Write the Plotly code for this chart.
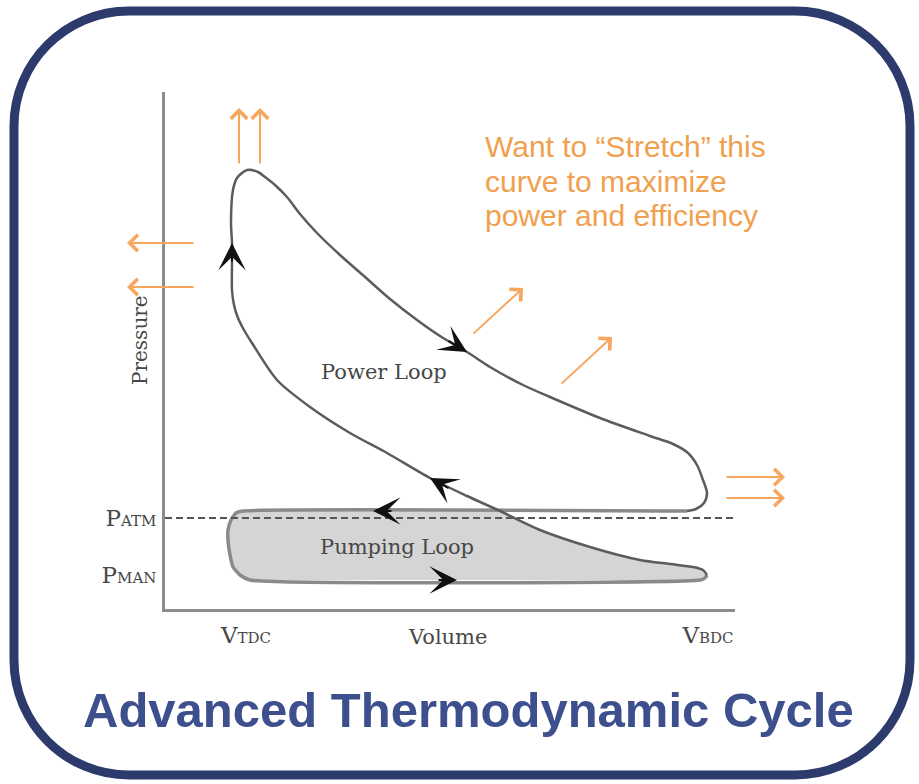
import plotly.graph_objects as go
import numpy as np

# ---------------- data (diagram units: volume / pressure, origin at axis corner) -------------
V_TDC, V_BDC = 81, 543          # tick positions on volume axis
P_ATM, P_MAN = 91, 34           # tick positions on pressure axis
P_EXH = 98                      # exhaust stroke pressure
P_INT = 29                      # intake stroke pressure
V_MAX, P_MAX = 570, 517         # axis extents

x_tick_text = ["V<span style='font-size:15px'>TDC</span>", "V<span style='font-size:15px'>BDC</span>"]
y_tick_text = ["P<span style='font-size:15px'>ATM</span>", "P<span style='font-size:15px'>MAN</span>"]

# compression stroke (BDC -> peak)
comp_v = [542, 538, 528, 505, 475, 425, 375, 335, 302, 265, 222, 185, 145, 112, 87, 79, 73, 69, 67, 67, 67, 66, 68, 72, 82]
comp_p = [34, 39, 42, 45, 49, 62, 79, 98, 113, 131, 156, 176, 202, 229, 266, 279, 291, 304, 319, 346, 366, 386, 419, 431, 439]
# expansion stroke + blowdown (peak -> exhaust)
exp_v = [82, 93, 100, 110, 122, 135, 152, 175, 200, 225, 252, 275, 302, 325, 358, 385, 435, 485, 508, 523, 532, 538, 542, 539, 531, 522]
exp_p = [439, 437, 432, 424, 412, 395, 376, 354, 332, 310, 289, 273, 257, 242, 224, 212, 191, 173, 165, 156, 144, 129, 116, 106, 100, 98]
# exhaust stroke
exh_v = [522, 78]
exh_p = [P_EXH, P_EXH]
# valve overlap (left side of pumping loop)
ovl_v = [78, 71, 66, 63, 63, 65, 68, 75, 85]
ovl_p = [98, 96, 89, 79, 69, 54, 42, 34, 29]
# intake stroke
int_v = [85, 535, 540, 542]
int_p = [P_INT, P_INT, 31, 34]

# direction arrows on the cycle: (tip_v, tip_p, tail_v, tail_p)
cycle_arrows = [
    (67, 366, 67, 346),
    (302, 257, 282, 269),
    (265, 131, 285, 120),
    (208, 98, 228, 98),
    (292, 29, 272, 29),
]
# "stretch" arrows: (tip_v, tip_p, tail_v, tail_p)
stretch_arrows = [
    (74, 501, 74, 444),
    (95, 501, 95, 444),
    (-38, 366, 30, 366),
    (-38, 322, 30, 322),
    (358, 321, 307, 274),
    (447, 272, 395, 224),
    (620, 132, 560, 132),
    (620, 111, 560, 111),
]

note_lines = ["Want to \u201cStretch\u201d this", "curve to maximize", "power and efficiency"]
note_p = [462, 427, 393]
title_text = "Advanced Thermodynamic Cycle"

# ---------------- figure ----------------
W, H = 919, 784
SERIF = "DejaVu Serif, Liberation Serif, serif"
LABEL = "#474747"

def px(x, y):
    """pixel position -> paper coords"""
    return x / W, 1 - y / H

fig = go.Figure()

# pumping loop fill
comp_v_a, comp_p_a = np.array(comp_v), np.array(comp_p)
idx = int(np.argmax(comp_p_a >= P_EXH))
fill_v = [ovl_v[0]] + list(comp_v_a[idx::-1]) + int_v[::-1] + ovl_v[::-1]
fill_p = [ovl_p[0]] + list(comp_p_a[idx::-1]) + int_p[::-1] + ovl_p[::-1]
fig.add_trace(go.Scatter(x=fill_v, y=fill_p, fill="toself", fillcolor="#d5d5d5",
                         mode="lines", line=dict(width=0, color="rgba(0,0,0,0)"),
                         hoverinfo="skip", cliponaxis=False))

# low-pressure strokes (thick gray)
fig.add_trace(go.Scatter(x=exh_v + ovl_v[1:] + int_v[1:], y=exh_p + ovl_p[1:] + int_p[1:],
                         mode="lines", line=dict(color="#8a8a8a", width=3.5, shape="spline", smoothing=0.5),
                         hoverinfo="skip", cliponaxis=False))
# compression + expansion (dark)
fig.add_trace(go.Scatter(x=comp_v + exp_v[1:], y=comp_p + exp_p[1:],
                         mode="lines", line=dict(color="#5c5c5c", width=2.5, shape="spline", smoothing=0.8),
                         hoverinfo="skip", cliponaxis=False))

annotations = []
for tv, tp, av, ap in cycle_arrows:
    annotations.append(dict(x=tv, y=tp, ax=av, ay=ap, xref="x", yref="y", axref="x", ayref="y",
                            text="", showarrow=True, arrowhead=3, arrowsize=2.3, arrowwidth=2,
                            arrowcolor="#111111", standoff=0))
for tv, tp, av, ap in stretch_arrows:
    annotations.append(dict(x=tv, y=tp, ax=av, ay=ap, xref="x", yref="y", axref="x", ayref="y",
                            text="", showarrow=True, arrowhead=4, arrowsize=1.6, arrowwidth=2,
                            arrowcolor="#f7a65e", standoff=0))

annotations += [
    dict(x=219, y=237, xref="x", yref="y", text="Power Loop", showarrow=False,
         font=dict(family=SERIF, size=21, color=LABEL)),
    dict(x=232, y=62, xref="x", yref="y", text="Pumping Loop", showarrow=False,
         font=dict(family=SERIF, size=21, color=LABEL)),
]
vx, vy = px(447, 637)
annotations.append(dict(x=vx, y=vy, xref="paper", yref="paper", xanchor="center", yanchor="middle",
                        text="Volume", showarrow=False, font=dict(family=SERIF, size=21, color=LABEL)))
prx, pry = px(140, 340)
annotations.append(dict(x=prx, y=pry, xref="paper", yref="paper", xanchor="center", yanchor="middle",
                        text="Pressure", showarrow=False, textangle=-90,
                        font=dict(family=SERIF, size=20, color=LABEL)))
for line, p in zip(note_lines, note_p):
    annotations.append(dict(x=318, y=p, xref="x", yref="y", xanchor="left", text=line, showarrow=False,
                            font=dict(family="Liberation Sans, Arial, sans-serif", size=30, color="#f0a04e")))
tx, ty = px(468, 710)
annotations.append(dict(x=tx, y=ty, xref="paper", yref="paper", xanchor="center", yanchor="middle",
                        text="<b>" + title_text + "</b>", showarrow=False,
                        font=dict(family="Liberation Sans, Arial, sans-serif", size=49, color="#3e4f8e")))

# rounded frame (pixel geometry -> paper coords)
L, T, R, B, r = 14, 11, 910, 775, 115
k = 0.5523 * r
def P(x, y):
    a, b = px(x, y)
    return f"{a:.5f},{b:.5f}"
frame = (f"M{P(L + r, T)} L{P(R - r, T)} C{P(R - r + k, T)} {P(R, T + r - k)} {P(R, T + r)} "
         f"L{P(R, B - r)} C{P(R, B - r + k)} {P(R - r + k, B)} {P(R - r, B)} "
         f"L{P(L + r, B)} C{P(L + r - k, B)} {P(L, B - r + k)} {P(L, B - r)} "
         f"L{P(L, T + r)} C{P(L, T + r - k)} {P(L + r - k, T)} {P(L + r, T)} Z")

shapes = [
    dict(type="path", xref="paper", yref="paper", path=frame, line=dict(color="#2c3a6c", width=9)),
    dict(type="line", xref="x", yref="y", x0=0, x1=V_MAX, y0=P_ATM, y1=P_ATM,
         line=dict(color="#555555", width=2, dash="7px,4px")),
]

fig.update_layout(
    width=W, height=H, autosize=False, margin=dict(l=0, r=0, t=0, b=0),
    paper_bgcolor="white", plot_bgcolor="rgba(0,0,0,0)", showlegend=False,
    annotations=annotations, shapes=shapes,
    xaxis=dict(domain=[165 / W, 735 / W], range=[0, V_MAX], showline=True, linecolor="#8c8c8c", linewidth=3,
               showgrid=False, zeroline=False, tickvals=[V_TDC, V_BDC], ticktext=x_tick_text,
               ticks="outside", ticklen=3, tickcolor="rgba(0,0,0,0)",
               tickfont=dict(family=SERIF, size=23, color=LABEL), fixedrange=True),
    yaxis=dict(domain=[(H - 609) / H, (H - 92) / H], range=[0, P_MAX], showline=True, linecolor="#8c8c8c",
               linewidth=3, showgrid=False, zeroline=False, tickvals=[P_ATM, P_MAN], ticktext=y_tick_text,
               ticks="outside", ticklen=1, tickcolor="rgba(0,0,0,0)",
               tickfont=dict(family=SERIF, size=23, color=LABEL), fixedrange=True),
)

fig.write_html("out.html", config={"displayModeBar": False},
               post_script="document.body.style.margin='0px';"
                           "document.documentElement.style.overflow='hidden';")
